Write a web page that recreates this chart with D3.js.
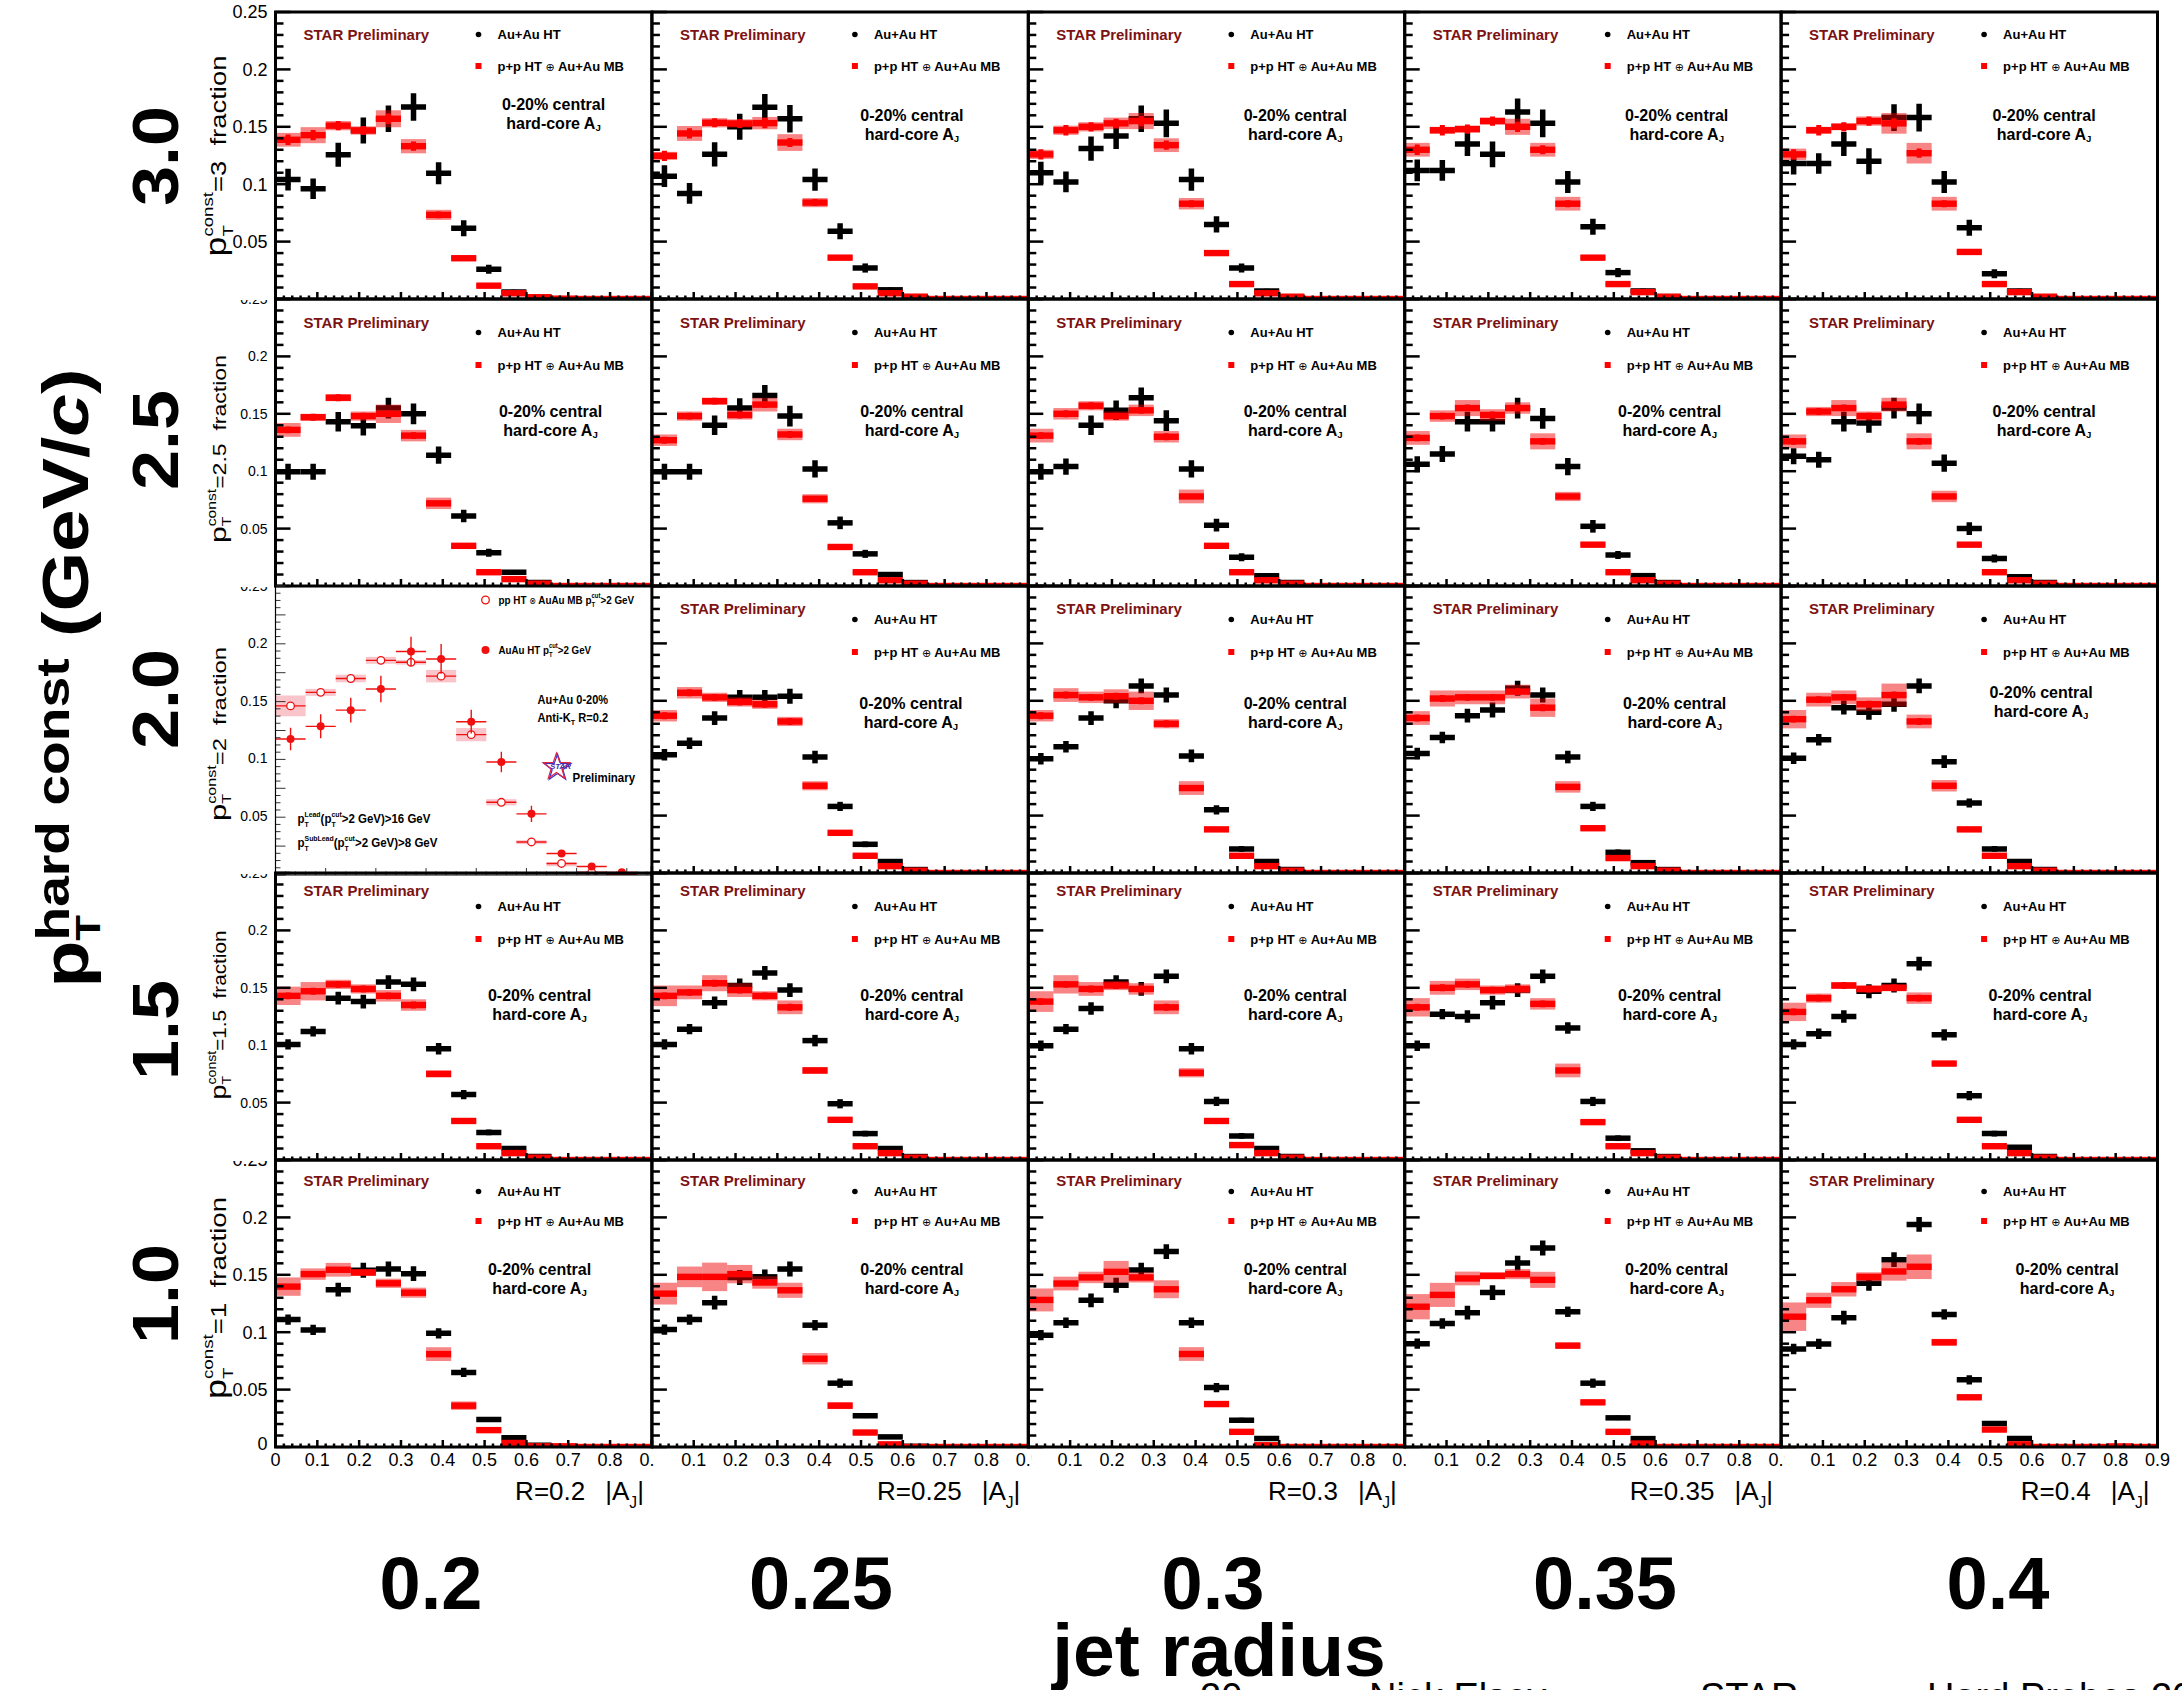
<!DOCTYPE html>
<html><head><meta charset="utf-8">
<script src="https://cdn.jsdelivr.net/npm/d3@7"></script>
<style>body{margin:0;background:#fff}svg{display:block}text{font-family:"Liberation Sans",Arial,Helvetica,sans-serif}</style>
</head><body><svg id="c" width="2182" height="1690"></svg>
<script>
// ---------------- DATA ----------------
const ajEdges = [0,0.06,0.12,0.18,0.24,0.30,0.36,0.42,0.48,0.54,0.60,0.66,0.72,0.78,0.84,0.90];
const jetRadii = ["0.2","0.25","0.3","0.35","0.4"];
const ptHardConst = ["3.0","2.5","2.0","1.5","1.0"];
const ptConstTitle = ["3","2.5","2","1.5","1"];
const yTickValues = [0,0.05,0.1,0.15,0.2,0.25];
const yTickLabels = ["0","0.05","0.1","0.15","0.2","0.25"];
const xTickValues = [0,0.1,0.2,0.3,0.4,0.5,0.6,0.7,0.8,0.9];
const xTickLabels = ["0","0.1","0.2","0.3","0.4","0.5","0.6","0.7","0.8","0.9"];

// Au+Au HT (black), one array per jet radius, per pT const cut
const auauHT_pt30 = [
 [0.104,0.096,0.1256,0.1468,0.157,0.1672,0.1096,0.0616,0.0259,0.006,0.0015],
 [0.107,0.092,0.126,0.150,0.167,0.157,0.104,0.059,0.027,0.008,0.002],
 [0.110,0.102,0.131,0.142,0.157,0.153,0.104,0.065,0.027,0.007,0.002],
 [0.112,0.112,0.135,0.126,0.163,0.153,0.102,0.063,0.023,0.007,0.002],
 [0.118,0.118,0.135,0.120,0.158,0.158,0.102,0.062,0.022,0.007,0.002]];
const auauHT_pt25 = [
 [0.0995,0.0995,0.143,0.1396,0.155,0.150,0.114,0.061,0.029,0.012,0.003],
 [0.0995,0.0995,0.140,0.155,0.166,0.148,0.102,0.055,0.028,0.010,0.003],
 [0.0995,0.104,0.140,0.153,0.164,0.144,0.102,0.053,0.025,0.009,0.003],
 [0.106,0.115,0.143,0.143,0.155,0.146,0.104,0.052,0.027,0.009,0.003],
 [0.113,0.110,0.143,0.142,0.155,0.150,0.107,0.050,0.024,0.008,0.003]];
const auauHT_pt20 = [
 null,
 [0.103,0.113,0.135,0.153,0.153,0.154,0.101,0.058,0.025,0.010,0.003],
 [0.0995,0.110,0.135,0.150,0.163,0.155,0.102,0.055,0.021,0.010,0.003],
 [0.104,0.118,0.137,0.142,0.161,0.155,0.101,0.058,0.018,0.009,0.003],
 [0.100,0.116,0.144,0.140,0.147,0.163,0.097,0.061,0.021,0.010,0.003]];
const auauHT_pt15 = [
 [0.1007,0.112,0.141,0.138,0.155,0.153,0.097,0.057,0.024,0.010,0.003],
 [0.1007,0.114,0.137,0.152,0.163,0.148,0.104,0.049,0.023,0.010,0.003],
 [0.0995,0.114,0.132,0.155,0.149,0.160,0.097,0.051,0.021,0.010,0.003],
 [0.0995,0.127,0.125,0.137,0.148,0.160,0.115,0.051,0.019,0.008,0.003],
 [0.1007,0.110,0.125,0.147,0.152,0.171,0.109,0.056,0.023,0.011,0.003]];
const auauHT_pt10 = [
 [0.111,0.102,0.137,0.154,0.155,0.151,0.099,0.065,0.024,0.008,0.0015],
 [0.1023,0.111,0.1257,0.1477,0.1482,0.155,0.1061,0.0556,0.0272,0.0088,0.0006],
 [0.0974,0.1082,0.1278,0.1409,0.1541,0.1702,0.1082,0.0518,0.0234,0.0073],
 [0.090,0.1076,0.117,0.1345,0.1602,0.1734,0.1178,0.0556,0.0254,0.0073],
 [0.0854,0.0898,0.1126,0.1427,0.1632,0.1939,0.1155,0.0585,0.0205,0.0073]];

// statistical errors of Au+Au HT per pT const cut
const auauErr_pt30 = [0.0095,0.009,0.0105,0.0113,0.0116,0.012,0.0096,0.007,0.004,0.002,0.001];
const auauErr_pt25 = [0.007,0.007,0.0085,0.0085,0.009,0.009,0.0075,0.0055,0.0035,0.002,0.001];
const auauErr_pt20 = [0.005,0.005,0.006,0.0065,0.0065,0.0065,0.0055,0.004,0.0025,0.0015,0.001];
const auauErr_pt15 = [0.0045,0.0045,0.0055,0.006,0.006,0.006,0.005,0.004,0.0025,0.0015,0.001];
const auauErr_pt10 = [0.0045,0.0045,0.006,0.0065,0.0065,0.0065,0.0045,0.004,0.002,0.001,0.0005];

// p+p HT (+) Au+Au MB (red)
const ppEmb_pt30 = [
 [0.1387,0.1427,0.151,0.1468,0.157,0.1331,0.0733,0.0355,0.0116,0.005,0.0015,0.0003],
 [0.1247,0.1442,0.1535,0.1529,0.1532,0.1363,0.084,0.036,0.011,0.005,0.002],
 [0.126,0.147,0.150,0.153,0.155,0.134,0.083,0.040,0.013,0.005,0.002],
 [0.130,0.147,0.148,0.155,0.150,0.130,0.083,0.036,0.013,0.006,0.002],
 [0.126,0.147,0.150,0.155,0.153,0.127,0.083,0.041,0.013,0.006,0.002]];
const ppEmb_pt25 = [
 [0.136,0.147,0.164,0.148,0.150,0.131,0.072,0.035,0.012,0.006,0.002],
 [0.127,0.148,0.161,0.149,0.158,0.132,0.076,0.034,0.012,0.005,0.002],
 [0.131,0.150,0.157,0.148,0.153,0.130,0.078,0.035,0.012,0.005,0.002],
 [0.129,0.148,0.155,0.149,0.155,0.126,0.078,0.036,0.012,0.005,0.002],
 [0.126,0.152,0.155,0.148,0.158,0.126,0.078,0.036,0.012,0.005,0.002]];
const ppEmb_pt20 = [
 null,
 [0.137,0.157,0.153,0.149,0.147,0.132,0.076,0.035,0.015,0.006,0.002],
 [0.137,0.155,0.153,0.154,0.150,0.130,0.074,0.038,0.015,0.006,0.002],
 [0.135,0.152,0.153,0.153,0.158,0.144,0.075,0.039,0.013,0.006,0.002],
 [0.134,0.151,0.153,0.147,0.155,0.132,0.076,0.038,0.015,0.006,0.002]];
const ppEmb_pt15 = [
 [0.143,0.147,0.153,0.149,0.143,0.135,0.075,0.034,0.012,0.006,0.002],
 [0.143,0.146,0.154,0.148,0.143,0.133,0.078,0.035,0.012,0.006,0.002],
 [0.138,0.153,0.149,0.152,0.149,0.133,0.076,0.034,0.013,0.006,0.002],
 [0.133,0.150,0.153,0.148,0.149,0.136,0.078,0.033,0.012,0.006,0.002],
 [0.129,0.141,0.152,0.149,0.150,0.141,0.084,0.035,0.012,0.006,0.002]];
const ppEmb_pt10 = [
 [0.1397,0.1506,0.1544,0.152,0.1426,0.1344,0.0809,0.036,0.0147,0.0035,0.0006,0.0006],
 [0.1336,0.1482,0.1482,0.1506,0.1433,0.1365,0.0769,0.036,0.0126,0.0023],
 [0.1281,0.1424,0.1477,0.1526,0.1477,0.1374,0.081,0.0374,0.0132,0.0015],
 [0.1222,0.1325,0.1468,0.1491,0.1506,0.1456,0.0883,0.0389,0.0132,0.003],
 [0.1135,0.1278,0.1374,0.1482,0.1529,0.157,0.0912,0.0433,0.0152,0.0023,0,0,0,0.0005]];

// systematic uncertainty (pink boxes)
const ppSys_pt30 = [
 [0.006,0.007,0.004,0.0036,0.0074,0.0062,0.0044,0.002,0.0015,0.001],
 [0.0035,0.0065,0.004,0.0036,0.0054,0.0073,0.004,0.002,0.0015,0.001],
 [0.004,0.004,0.004,0.005,0.007,0.006,0.005,0.002,0.0015,0.001],
 [0.006,0.003,0.003,0.003,0.007,0.006,0.006,0.002,0.0015,0.001],
 [0.005,0.003,0.003,0.004,0.009,0.009,0.006,0.002,0.0015,0.001]];
const ppSys_pt25 = [
 [0.006,0.003,0.003,0.004,0.008,0.005,0.005,0.002,0.0015,0.001],
 [0.005,0.004,0.003,0.004,0.006,0.005,0.004,0.002,0.0015,0.001],
 [0.006,0.005,0.004,0.004,0.005,0.005,0.006,0.002,0.0015,0.001],
 [0.006,0.005,0.007,0.005,0.005,0.007,0.004,0.002,0.0015,0.001],
 [0.006,0.004,0.007,0.004,0.006,0.007,0.005,0.002,0.0015,0.001]];
const ppSys_pt20 = [
 null,
 [0.005,0.005,0.004,0.004,0.004,0.004,0.004,0.002,0.0015,0.001],
 [0.005,0.006,0.005,0.006,0.008,0.004,0.006,0.002,0.0015,0.001],
 [0.006,0.007,0.006,0.006,0.006,0.008,0.005,0.002,0.0015,0.001],
 [0.008,0.006,0.006,0.006,0.010,0.006,0.005,0.002,0.0015,0.001]];
const ppSys_pt15 = [
 [0.008,0.008,0.004,0.004,0.005,0.005,0.003,0.002,0.0015,0.001],
 [0.009,0.006,0.007,0.006,0.004,0.006,0.003,0.002,0.0015,0.001],
 [0.009,0.008,0.006,0.004,0.005,0.006,0.004,0.002,0.0015,0.001],
 [0.008,0.006,0.005,0.004,0.004,0.005,0.006,0.002,0.0015,0.001],
 [0.008,0.004,0.003,0.003,0.003,0.005,0.002,0.002,0.0015,0.001]];
const ppSys_pt10 = [
 [0.008,0.005,0.006,0.003,0.004,0.0044,0.006,0.0037,0.002,0.001],
 [0.0095,0.009,0.0124,0.008,0.0054,0.0066,0.005,0.003,0.0015,0.001],
 [0.010,0.006,0.005,0.0095,0.0044,0.0078,0.006,0.002,0.0015,0.001],
 [0.011,0.0105,0.006,0.003,0.0044,0.007,0.0025,0.002,0.0015,0.001],
 [0.0124,0.0066,0.0063,0.004,0.008,0.0107,0.003,0.002,0.0015,0.001]];

// statistical errors of the embedded reference
const ppStat_pt30 = [0.0045,0.0045,0.004,0.004,0.0045,0.004,0.003,0.002,0.001];
const ppStat_pt25 = [0.003,0.003,0.003,0.003,0.003,0.003,0.002,0.0015,0.001];
const ppStat_pt20 = [0.003,0.003,0.003,0.003,0.003,0.003,0.002,0.0015,0.001];
const ppStat_pt15 = [0.003,0.003,0.003,0.003,0.003,0.003,0.002,0.0015,0.001];
const ppStat_pt10 = [0.002,0.002,0.002,0.002,0.002,0.002,0.002,0.001,0.001];

// inset panel (pT const = 2, R = 0.2), from a different analysis plot
const insetPPOpen    = [0.1463,0.158,0.170,0.1857,0.184,0.172,0.1214,0.0629,0.0286,0.010,0.0023,0.0003];
const insetPPOpenSys = [0.009,0.003,0.0033,0.003,0.002,0.0054,0.0057,0.0027,0.0015,0.001,0.001,0.001];
const insetPPOpenErr = [0.002,0.002,0.002,0.002,0.002,0.002,0.002,0.001,0.001,0.001,0.001,0.001];
const insetAuAu      = [0.1177,0.1286,0.1426,0.1609,0.1934,0.1869,0.1326,0.0977,0.0529,0.0186,0.0074,0.0023];
const insetAuAuErr   = [0.0097,0.0104,0.0107,0.0114,0.0126,0.0129,0.0103,0.0089,0.0071,0.003,0.002,0.001];

// ---------------- LAYOUT ----------------
const W = 2182, H = 1690;
const X0 = 275.5, PW = 376.4, Y0 = 12, PH = 287;
const rowSpec = [
 {auau:auauHT_pt30, pp:ppEmb_pt30, sys:ppSys_pt30, err:auauErr_pt30, stat:ppStat_pt30},
 {auau:auauHT_pt25, pp:ppEmb_pt25, sys:ppSys_pt25, err:auauErr_pt25, stat:ppStat_pt25},
 {auau:auauHT_pt20, pp:ppEmb_pt20, sys:ppSys_pt20, err:auauErr_pt20, stat:ppStat_pt20},
 {auau:auauHT_pt15, pp:ppEmb_pt15, sys:ppSys_pt15, err:auauErr_pt15, stat:ppStat_pt15},
 {auau:auauHT_pt10, pp:ppEmb_pt10, sys:ppSys_pt10, err:auauErr_pt10, stat:ppStat_pt10}];
const starBase = [28,29,28,23,26];
const legABase = [27,38,38,38,36];
const legBBase = [59,71,71,71,66];
const centralBase = [[98,109,109,109,109],[118,118,118,118,118],[123,123,123,123,112],[128,128,128,128,128],[115,115,115,115,115]];
const centralX = [[278,260,267,272,263],[275,260,267,265,263],[0,259,267,270,260],[264,260,267,265,259],[264,260,267,272,286]];
const rowLabelY = [156,440,699,1030,1294];
const rowTitleY = [156,449,734,1015,1298];
const rowTitleLen = [201,188,174,169,202];
const bigLabelX = [431,821,1213,1605,1998];

const svg = d3.select("#c");
svg.append("rect").attr("width",W).attr("height",H).attr("fill","#fff");
const defs = svg.append("defs");

function rich(parent, x, y, segs, o) {
  const t = parent.append("text").attr("x",x).attr("y",y)
    .attr("font-size",o.size).attr("font-weight",o.weight||"bold").attr("fill",o.fill||"#000");
  if (o.anchor) t.attr("text-anchor",o.anchor);
  let cur = 0, prevW = 0, pend = 0;
  segs.forEach(s => {
    const fs = (s.f||1)*o.size, sh = (s.sh||0)*o.size;
    const sp = t.append("tspan").text(s.t).attr("font-size",fs);
    if (s.family) sp.attr("font-family",s.family);
    if (s.weight) sp.attr("font-weight",s.weight);
    if (s.style) sp.attr("font-style",s.style);
    const dy = -(sh-cur); cur = sh;
    if (dy) sp.attr("dy",dy);
    let dx = pend + (s.dx||0); pend = 0;
    if (s.stack) dx -= prevW;
    if (dx) sp.attr("dx",dx);
    const w = sp.node().getComputedTextLength();
    if (s.stack && prevW > w) pend = prevW - w;
    prevW = w;
  });
  return t;
}
function fitX(t, len) {
  const bb = t.node().getBBox();
  t.attr("transform",`scale(${len/bb.width},1)`);
}
function fitAt(t, x0, len) {
  const bb = t.node().getBBox();
  const k = len/bb.width;
  t.attr("transform",`translate(${x0},0) scale(${k},1) translate(${-x0},0)`);
}

const dataLayer = svg.append("g");
const frameLayer = svg.append("g");
const textLayer = svg.append("g");

function panelBox(r,c){ return {left:X0+c*PW, top:Y0+r*PH}; }

function drawMain(r,c){
  const {left,top} = panelBox(r,c);
  const xs = d3.scaleLinear().domain([0,0.9]).range([left,left+PW]);
  const ys = d3.scaleLinear().domain([0,0.25]).range([top+PH,top]);
  const id = `clip${r}${c}`;
  defs.append("clipPath").attr("id",id).append("rect").attr("x",left).attr("y",top).attr("width",PW).attr("height",PH);
  const g = dataLayer.append("g").attr("clip-path",`url(#${id})`);
  const R = rowSpec[r];
  const au = R.auau[c], pp = R.pp[c], sy = R.sys[c];
  const bins = d3.range(ajEdges.length-1);
  bins.forEach(i => {
    const v = au[i]||0; if (v<=0) return;
    const e = R.err[i]||0, lo = ajEdges[i], hi = ajEdges[i+1], cx = xs((lo+hi)/2);
    g.append("line").attr("x1",xs(lo)).attr("x2",xs(hi)).attr("y1",ys(v)).attr("y2",ys(v)).attr("stroke","#000").attr("stroke-width",5.5);
    g.append("line").attr("x1",cx).attr("x2",cx).attr("y1",ys(v-e)).attr("y2",ys(v+e)).attr("stroke","#000").attr("stroke-width",5.5);
  });
  bins.forEach(i => {
    const v = pp[i]||0, s = sy[i]||0; if (s<=0) return;
    const lo = ajEdges[i], hi = ajEdges[i+1];
    g.append("rect").attr("x",xs(lo)).attr("width",xs(hi)-xs(lo)).attr("y",ys(v+s)).attr("height",ys(v-s)-ys(v+s)).attr("fill","rgba(240,0,0,0.48)");
  });
  bins.forEach(i => {
    const v = pp[i]||0, st = R.stat[i]||0, lo = ajEdges[i], hi = ajEdges[i+1], cx = xs((lo+hi)/2);
    g.append("rect").attr("x",xs(lo)).attr("width",xs(hi)-xs(lo)).attr("y",ys(v)-3.2).attr("height",6.4).attr("fill","#ff0000");
    if (st>0) g.append("line").attr("x1",cx).attr("x2",cx).attr("y1",ys(v-st)).attr("y2",ys(v+st)).attr("stroke","#ff0000").attr("stroke-width",5);
  });
  drawFrame(left,top,xs,ys,false);
  const t = textLayer;
  t.append("text").attr("x",left+28).attr("y",top+starBase[r]).attr("font-size",15).attr("font-weight","bold").attr("fill","#7d1212").text("STAR Preliminary");
  t.append("circle").attr("cx",left+203).attr("cy",top+legABase[r]-4.5).attr("r",2.8).attr("fill","#000");
  t.append("text").attr("x",left+222).attr("y",top+legABase[r]).attr("font-size",13).attr("font-weight","bold").text("Au+Au HT");
  t.append("rect").attr("x",left+200).attr("y",top+legBBase[r]-8).attr("width",6).attr("height",6).attr("fill","#ff0000");
  rich(t,left+222,top+legBBase[r],[{t:"p+p HT "},{t:"\u2295",family:"DejaVu Sans",weight:"normal",f:0.85},{t:" Au+Au MB"}],{size:13});
  const cxp = left+centralX[r][c], cb = top+centralBase[r][c];
  t.append("text").attr("x",cxp).attr("y",cb).attr("text-anchor","middle").attr("font-size",16).attr("font-weight","bold").text("0-20% central");
  rich(t,cxp,cb+19,[{t:"hard-core A"},{t:"J",f:0.6,sh:-0.12}],{size:16,anchor:"middle"});
}

function drawFrame(left,top,xs,ys,thin){
  const g = frameLayer.append("g");
  const col = thin?"#333":"#000", sw = thin?1:2.5;
  const yt = thin ? d3.range(0,41).map(k=>k*0.00625) : d3.range(0,26).map(k=>k*0.01);
  yt.forEach((v,k) => {
    const len = thin ? (k%4===0?10:5) : (k%5===0?15:8);
    g.append("line").attr("x1",left).attr("x2",left+len).attr("y1",ys(v)).attr("y2",ys(v)).attr("stroke",col).attr("stroke-width",sw);
  });
  const xmax = xs.domain()[1];
  const nx = Math.floor(xmax/0.02+1e-6);
  d3.range(0,nx+1).forEach(k => {
    const v = k*0.02, len = k%5===0?7:3.5;
    g.append("line").attr("x1",xs(v)).attr("x2",xs(v)).attr("y1",ys(0)).attr("y2",ys(0)-len).attr("stroke",col).attr("stroke-width",sw);
  });
  if (thin) {
    g.append("line").attr("x1",left).attr("x2",left).attr("y1",top).attr("y2",top+PH).attr("stroke","#000").attr("stroke-width",1.2);
    g.append("line").attr("x1",left).attr("x2",left+PW).attr("y1",top+PH+2).attr("y2",top+PH+2).attr("stroke","#000").attr("stroke-width",1.2);
  } else {
    g.append("rect").attr("x",left).attr("y",top).attr("width",PW).attr("height",PH).attr("fill","none").attr("stroke","#000").attr("stroke-width",3);
  }
}

function drawInset(r,c){
  const {left,top} = panelBox(r,c);
  const xs = d3.scaleLinear().domain([0,0.75]).range([left,left+PW]);
  const ys = d3.scaleLinear().domain([0,0.25]).range([top+PH+2,top]);
  const id = `clip${r}${c}`;
  defs.append("clipPath").attr("id",id).append("rect").attr("x",left).attr("y",top).attr("width",PW).attr("height",PH+2);
  const g = dataLayer.append("g").attr("clip-path",`url(#${id})`);
  const red = "#f01010";
  insetPPOpen.forEach((v,i) => {
    const s = insetPPOpenSys[i], lo = ajEdges[i], hi = ajEdges[i+1];
    g.append("rect").attr("x",xs(lo)).attr("width",xs(hi)-xs(lo)).attr("y",ys(v+s)).attr("height",Math.max(ys(v-s)-ys(v+s),4)).attr("fill","rgba(235,60,80,0.3)");
  });
  const drawPts = (vals, errs, open) => vals.forEach((v,i) => {
    const lo = ajEdges[i], hi = ajEdges[i+1], cx = xs((lo+hi)/2), e = errs[i];
    g.append("line").attr("x1",xs(lo)).attr("x2",xs(hi)).attr("y1",ys(v)).attr("y2",ys(v)).attr("stroke",red).attr("stroke-width",1.4);
    g.append("line").attr("x1",cx).attr("x2",cx).attr("y1",ys(v-e)).attr("y2",ys(v+e)).attr("stroke",red).attr("stroke-width",1.4);
    if (open) g.append("circle").attr("cx",cx).attr("cy",ys(v)).attr("r",3.8).attr("fill","#fff").attr("stroke",red).attr("stroke-width",1.3);
    else g.append("circle").attr("cx",cx).attr("cy",ys(v)).attr("r",4).attr("fill",red);
  });
  drawPts(insetPPOpen, insetPPOpenErr, true);
  drawPts(insetAuAu, insetAuAuErr, false);
  drawFrame(left,top,xs,ys,true);
  const t = textLayer;
  t.append("circle").attr("cx",left+210).attr("cy",top+14).attr("r",3.8).attr("fill","#fff").attr("stroke",red).attr("stroke-width",1.3);
  const l1 = rich(t,left+223,top+18,[{t:"pp HT "},{t:"\u2297",family:"DejaVu Sans",weight:"normal",f:0.8},{t:" AuAu MB p"},{t:"cut",f:0.6,sh:0.5},{t:"T",f:0.6,sh:-0.3,stack:true},{t:">2 GeV"}],{size:11.5});
  fitAt(l1,left+223,136);
  t.append("circle").attr("cx",left+210).attr("cy",top+64).attr("r",4).attr("fill",red);
  const l2 = rich(t,left+223,top+68,[{t:"AuAu HT p"},{t:"cut",f:0.6,sh:0.5},{t:"T",f:0.6,sh:-0.3,stack:true},{t:">2 GeV"}],{size:11.5});
  fitAt(l2,left+223,93);
  const l3 = t.append("text").attr("x",left+262).attr("y",top+118).attr("font-size",12).attr("font-weight","bold").text("Au+Au 0-20%");
  fitAt(l3,left+262,71);
  const l4 = rich(t,left+262,top+136,[{t:"Anti-K"},{t:"T",f:0.65,sh:-0.25},{t:" R=0.2"}],{size:12});
  fitAt(l4,left+262,71);
  const sx = left+281, sy = top+181, Ro = 14, Ri = 5.6;
  const pts = d3.range(10).map(k => { const a = -Math.PI/2 + k*Math.PI/5, rr = k%2?Ri:Ro; return [Math.cos(a)*rr, Math.sin(a)*rr]; });
  t.append("path").attr("d",d3.line()(pts)+"Z").attr("transform",`translate(${sx+1},${sy+1})`).attr("fill","none").attr("stroke","#3333cc").attr("stroke-width",1.2);
  t.append("path").attr("d",d3.line()(pts)+"Z").attr("transform",`translate(${sx},${sy})`).attr("fill","none").attr("stroke","#dd2244").attr("stroke-width",1.2);
  t.append("text").attr("x",sx+4).attr("y",sy+2).attr("text-anchor","middle").attr("font-family","Liberation Serif,serif").attr("font-style","italic").attr("font-weight","bold").attr("font-size",8).attr("fill","#4b2aa8").text("STAR");
  const l5 = t.append("text").attr("x",left+297).attr("y",top+196).attr("font-size",12).attr("font-weight","bold").text("Preliminary");
  fitAt(l5,left+297,63);
  const l6 = rich(t,left+22,top+237,[{t:"p"},{t:"Lead",f:0.6,sh:0.5},{t:"T",f:0.6,sh:-0.3,stack:true},{t:"(p"},{t:"cut",f:0.6,sh:0.5},{t:"T",f:0.6,sh:-0.3,stack:true},{t:">2 GeV)>16 GeV"}],{size:12});
  fitAt(l6,left+22,133);
  const l7 = rich(t,left+22,top+261,[{t:"p"},{t:"SubLead",f:0.6,sh:0.5},{t:"T",f:0.6,sh:-0.3,stack:true},{t:"(p"},{t:"cut",f:0.6,sh:0.5},{t:"T",f:0.6,sh:-0.3,stack:true},{t:">2 GeV)>8 GeV"}],{size:12});
  fitAt(l7,left+22,140);
}

for (let r=0;r<5;r++) for (let c=0;c<5;c++) {
  if (r===2 && c===0) drawInset(r,c); else drawMain(r,c);
}

// y tick labels (first column)
for (let r=0;r<5;r++){
  const {left,top} = panelBox(r,0);
  const ys = d3.scaleLinear().domain([0,0.25]).range([top+PH,top]);
  const fs = (r===0||r===4)?18:14;
  const cid = `ylab${r}`;
  defs.append("clipPath").attr("id",cid).append("rect").attr("x",0).attr("y",r===0?0:top+1).attr("width",left).attr("height",PH+30);
  const g = textLayer.append("g").attr("clip-path",`url(#${cid})`);
  yTickValues.forEach((v,k) => {
    if (v===0 && r!==4) return;
    g.append("text").attr("x",left-8).attr("y",ys(v)+fs*0.36-(v===0?3:0)).attr("text-anchor","end").attr("font-size",fs).text(yTickLabels[k]);
  });
}

// x tick labels (bottom row)
for (let c=0;c<5;c++){
  const {left} = panelBox(4,c);
  const xs = d3.scaleLinear().domain([0,0.9]).range([left,left+PW]);
  const cid = `xlab${c}`;
  defs.append("clipPath").attr("id",cid).append("rect").attr("x",left-20).attr("y",1440).attr("width",PW+20+(c<4?3:40)).attr("height",40);
  const g = textLayer.append("g").attr("clip-path",`url(#${cid})`);
  xTickValues.forEach((v,k) => {
    if (v===0 && c>0) return;
    g.append("text").attr("x",xs(v)).attr("y",1466).attr("text-anchor","middle").attr("font-size",18).text(xTickLabels[k]);
  });
  rich(textLayer,left+PW-8,1500,[{t:"R="+jetRadii[c]},{t:"|A",dx:20},{t:"J",f:0.6,sh:-0.3},{t:"|"}],{size:26,weight:"normal",anchor:"end"});
  textLayer.append("text").attr("x",bigLabelX[c]).attr("y",1609).attr("text-anchor","middle").attr("font-size",74).attr("font-weight","bold").text(jetRadii[c]);
}

// left labels
for (let r=0;r<5;r++){
  const g1 = textLayer.append("g").attr("transform",`translate(178,${rowLabelY[r]}) rotate(-90)`);
  const t1 = g1.append("text").attr("text-anchor","middle").attr("font-size",64).attr("font-weight","bold").text(ptHardConst[r]);
  fitX(t1,100);
  const big = (r===0||r===4);
  const base = big?22:17.5;
  const g2 = textLayer.append("g").attr("transform",`translate(226,${rowTitleY[r]}) rotate(-90)`);
  const t2 = rich(g2,0,0,[{t:"p",f:1.3},{t:"const",f:0.68,sh:0.6},{t:"T",f:0.68,sh:-0.3,stack:true},{t:"="+ptConstTitle[r]+"\u00a0\u00a0fraction"}],{size:base,weight:"normal",anchor:"middle"});
  fitX(t2,rowTitleLen[r]);
}
{
  const g = textLayer.append("g").attr("transform",`translate(88,678) rotate(-90)`);
  const t = rich(g,0,0,[{t:"p"},{t:"hard const",f:0.72,sh:0.3},{t:"T",f:0.55,sh:-0.18,stack:true},{t:" (GeV/"},{t:"c",style:"italic"},{t:")"}],{size:64,anchor:"middle"});
  fitX(t,619);
}
textLayer.append("text").attr("x",1219).attr("y",1676).attr("text-anchor","middle").attr("font-size",75).attr("font-weight","bold").text("jet radius");
// footer line, mostly below the bottom edge of the picture
[["20",1200],["Nick Elsey",1369],["STAR",1700],["Hard Probes 2016",1927]].forEach(([s,x]) =>
  textLayer.append("text").attr("x",x).attr("y",1710).attr("font-size",38).text(s));
</script></body></html>
